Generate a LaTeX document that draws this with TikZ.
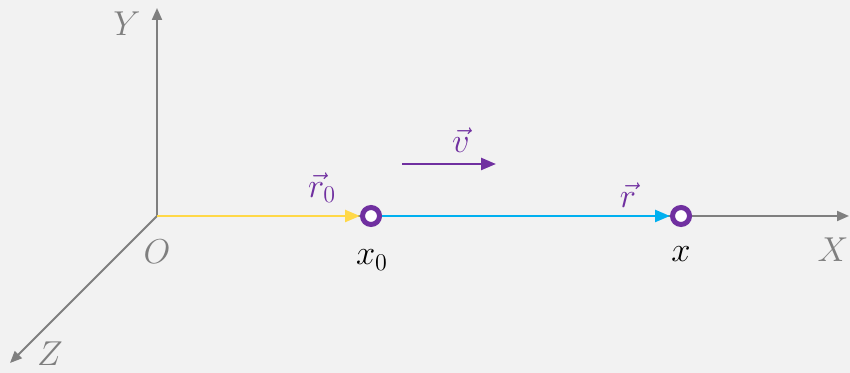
\documentclass[tikz,border=0pt]{standalone}
\usetikzlibrary{arrows.meta}
\definecolor{bgc}{HTML}{F2F2F2}
\definecolor{axc}{HTML}{7F7F7F}
\definecolor{yel}{HTML}{FFD848}
\definecolor{cya}{HTML}{00B0F0}
\definecolor{pur}{HTML}{7030A0}
\begin{document}
\begin{tikzpicture}[x=0.5pt,y=-0.5pt,
  axis/.style={draw=axc,line width=1pt,-{Triangle[length=6pt,width=5pt]}},
  vec/.style={line width=1.2pt,-{Triangle[length=7.5pt,width=6pt]}},
  pt/.style={circle,draw=pur,line width=2.5pt,fill=white,minimum size=8.5pt,inner sep=0pt},
  lbl/.style={font=\fontsize{18}{20}\selectfont,inner sep=0pt},
  axl/.style={lbl,text=axc}]
\useasboundingbox[fill=bgc] (0,0) rectangle (850,373);
\coordinate (O) at (157,216);
\coordinate (Ytip) at (157,8);
\coordinate (Xtip) at (849,216);
\coordinate (Ztip) at (10,363);
\draw[axis] (O) -- (Ytip);
\draw[axis] (O) -- (Xtip);
\draw[axis] (O) -- (Ztip);
\node[pt] (x0) at (371,216) {};
\node[pt] (x) at (681,216) {};
\draw[vec,draw=yel,fill=yel] (O) -- (x0.west);
\draw[vec,draw=cya,fill=cya] (x0.east) -- (x.west);
\coordinate (v1) at (402,164);
\coordinate (v2) at (496,164);
\draw[vec,draw=pur,fill=pur] (v1) -- (v2);
\node[lbl,text=pur] (lv) at (461,140) {$\vec{v}$};
\node[lbl,text=pur] (lr0) at (322,188) {$\vec{r}_0$};
\node[lbl,text=pur] (lr) at (628,195) {$\vec{r}$};
\node[lbl] (lx0) at (372,260) {$x_0$};
\node[lbl] (lx) at (681,254) {$x$};
\node[axl] (lX) at (833,250) {$X$};
\node[axl] (lY) at (127,24) {$Y$};
\node[axl] (lZ) at (50,354) {$Z$};
\node[axl] (lO) at (157,252) {$O$};
\end{tikzpicture}
\end{document}
